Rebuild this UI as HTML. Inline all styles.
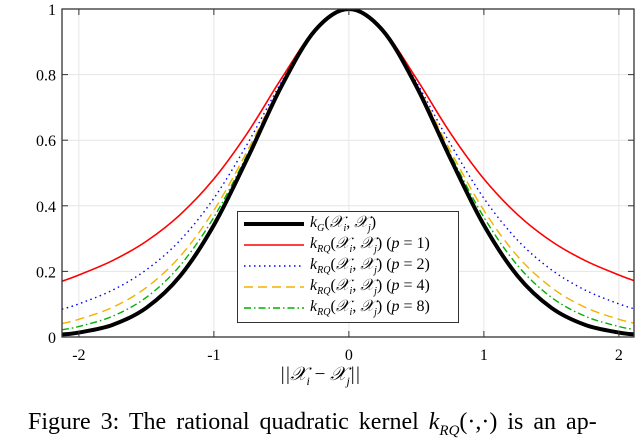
<!DOCTYPE html>
<html><head><meta charset="utf-8"><style>
body{margin:0;background:#fff;overflow:hidden;width:640px;height:423px;}
svg{display:block;font-family:"Liberation Serif",serif;}
.le{position:relative;height:21px}
.le svg{position:absolute;left:6px;top:3px}
.le .t{position:absolute;left:72px;top:0}
sub{font-size:10px}
</style></head><body>
<svg id="chart" width="640" height="423"></svg>
<script>
const xs=[-2.125,-2,-1.75,-1.5,-1.25,-1,-0.75,-0.5,-0.25,0,0.25,0.5,0.75,1,1.25,1.5,1.75,2,2.125];
const half_g=[1,0.935,0.764,0.546,0.341,0.186,0.089,0.037,0.0136,0.0076];
const half_p1=[1,0.937,0.788,0.623,0.482,0.373,0.292,0.233,0.189,0.170];
const half_p2=[1,0.936,0.777,0.590,0.423,0.295,0.205,0.143,0.101,0.0846];
const half_p4=[1,0.936,0.771,0.569,0.386,0.246,0.151,0.0905,0.054,0.0412];
const half_p8=[1,0.935,0.768,0.558,0.365,0.218,0.121,0.0634,0.032,0.0222];
const xTicks=[-2,-1,0,1,2];
const yTicks=[0,0.2,0.4,0.6,0.8,1];
const yTickLabels=["0","0.2","0.4","0.6","0.8","1"];

function full(h){return h.slice(1).reverse().concat(h);}
const L=62,R=634,T=9,B=337,X0=-2.125,X1=2.112;
const sx=v=>L+(v-X0)/(X1-X0)*(R-L);
const sy=v=>B-v*(B-T);
const NS="http://www.w3.org/2000/svg";
const svg=document.getElementById('chart');
function mk(t,a,p){const e=document.createElementNS(NS,t);for(const k in a)e.setAttribute(k,a[k]);(p||svg).appendChild(e);return e;}
const clip=mk('clipPath',{id:'pc'});mk('rect',{x:L,y:T,width:R-L,height:B-T},clip);
xTicks.forEach(t=>{const g=mk('line',{x1:sx(t),x2:sx(t),y1:T,y2:B,stroke:'#e6e6e6'});

});
yTicks.forEach(t=>{const g=mk('line',{x1:L,x2:R,y1:sy(t),y2:sy(t),stroke:'#e6e6e6'});

});
function path(vals){const pts=xs.map((x,i)=>[sx(x),sy(vals[i])]);
let d=`M${pts[0][0]},${pts[0][1]}`;
for(let i=0;i<pts.length-1;i++){const p0=pts[Math.max(0,i-1)],p1=pts[i],p2=pts[i+1],p3=pts[Math.min(pts.length-1,i+2)];
d+=` C${p1[0]+(p2[0]-p0[0])/6},${p1[1]+(p2[1]-p0[1])/6} ${p2[0]-(p3[0]-p1[0])/6},${p2[1]-(p3[1]-p1[1])/6} ${p2[0]},${p2[1]}`;}
return d;}
const series=[
 {v:full(half_p1),c:'#ff0000',w:1.6,da:'',n:'series-rq-p1'},
 {v:full(half_p2),c:'#0000ff',w:1.4,da:'1.5,3.5',n:'series-rq-p2'},
 {v:full(half_p4),c:'#f5b000',w:1.4,da:'9,5',n:'series-rq-p4'},
 {v:full(half_p8),c:'#00b000',w:1.4,da:'7,3,1.5,3',n:'series-rq-p8'},
 {v:full(half_g),c:'#000',w:4,da:'',n:'series-gaussian'}];
series.forEach(s=>{const p=mk('path',{d:path(s.v),fill:'none',stroke:s.c,'stroke-width':s.w,'stroke-dasharray':s.da,'clip-path':'url(#pc)'});

});
const bx=mk('rect',{x:L,y:T,width:R-L,height:B-T,fill:'none',stroke:'#333','stroke-width':1.3});


xTicks.forEach(t=>{mk('line',{x1:sx(t),x2:sx(t),y1:B,y2:B-6,stroke:'#333'});mk('line',{x1:sx(t),x2:sx(t),y1:T,y2:T+6,stroke:'#333'});
const tx=mk('text',{x:sx(t),y:B+23,'text-anchor':'middle','font-size':16});tx.textContent=t<0?'-'+(-t):String(t);

});
yTicks.forEach((t,i)=>{mk('line',{x1:L,x2:L+6,y1:sy(t),y2:sy(t),stroke:'#333'});mk('line',{x1:R,x2:R-6,y1:sy(t),y2:sy(t),stroke:'#333'});
const tx=mk('text',{x:L-6,y:sy(t)+6,'text-anchor':'end','font-size':16});tx.textContent=yTickLabels[i];

});
</script>
<div style="position:absolute;left:0;top:364px;width:640px;text-align:center;font:italic 19px 'Liberation Serif',serif;">||𝒳<sub style="font-size:12px">i</sub> <span style="font-style:normal">−</span> 𝒳<sub style="font-size:12px">j</sub>||</div>
<div style="position:absolute;left:237px;top:211px;width:220px;height:110px;border:1.3px solid #333;background:#fff;font:16px 'Liberation Serif',serif;">
 <div class="le" style="margin-top:2px"><svg width="62" height="14"><line x1="0" x2="60" y1="7" y2="7" stroke="#000" stroke-width="4"/></svg><span class="t"><i>k<sub>G</sub></i>(<i>𝒳<sub>i</sub></i>, <i>𝒳<sub>j</sub></i>)</span></div>
 <div class="le"><svg width="62" height="14"><line x1="0" x2="60" y1="7" y2="7" stroke="#f00" stroke-width="1.6"/></svg><span class="t"><i>k<sub>RQ</sub></i>(<i>𝒳<sub>i</sub></i>, <i>𝒳<sub>j</sub></i>) (<i>p</i> = 1)</span></div>
 <div class="le"><svg width="62" height="14"><line x1="0" x2="60" y1="7" y2="7" stroke="#00f" stroke-width="1.4" stroke-dasharray="1.5,3.5"/></svg><span class="t"><i>k<sub>RQ</sub></i>(<i>𝒳<sub>i</sub></i>, <i>𝒳<sub>j</sub></i>) (<i>p</i> = 2)</span></div>
 <div class="le"><svg width="62" height="14"><line x1="0" x2="60" y1="7" y2="7" stroke="#f5b000" stroke-width="1.4" stroke-dasharray="9,5"/></svg><span class="t"><i>k<sub>RQ</sub></i>(<i>𝒳<sub>i</sub></i>, <i>𝒳<sub>j</sub></i>) (<i>p</i> = 4)</span></div>
 <div class="le"><svg width="62" height="14"><line x1="0" x2="60" y1="7" y2="7" stroke="#00b000" stroke-width="1.4" stroke-dasharray="7,3,1.5,3"/></svg><span class="t"><i>k<sub>RQ</sub></i>(<i>𝒳<sub>i</sub></i>, <i>𝒳<sub>j</sub></i>) (<i>p</i> = 8)</span></div>
</div>
<div style="position:absolute;left:28px;top:409px;font:24px 'Liberation Serif',serif;white-space:nowrap;word-spacing:4px">Figure 3: The rational quadratic kernel <i>k<sub style="font-size:15px">RQ</sub></i>(·,·) is an ap-</div>
</body></html>
